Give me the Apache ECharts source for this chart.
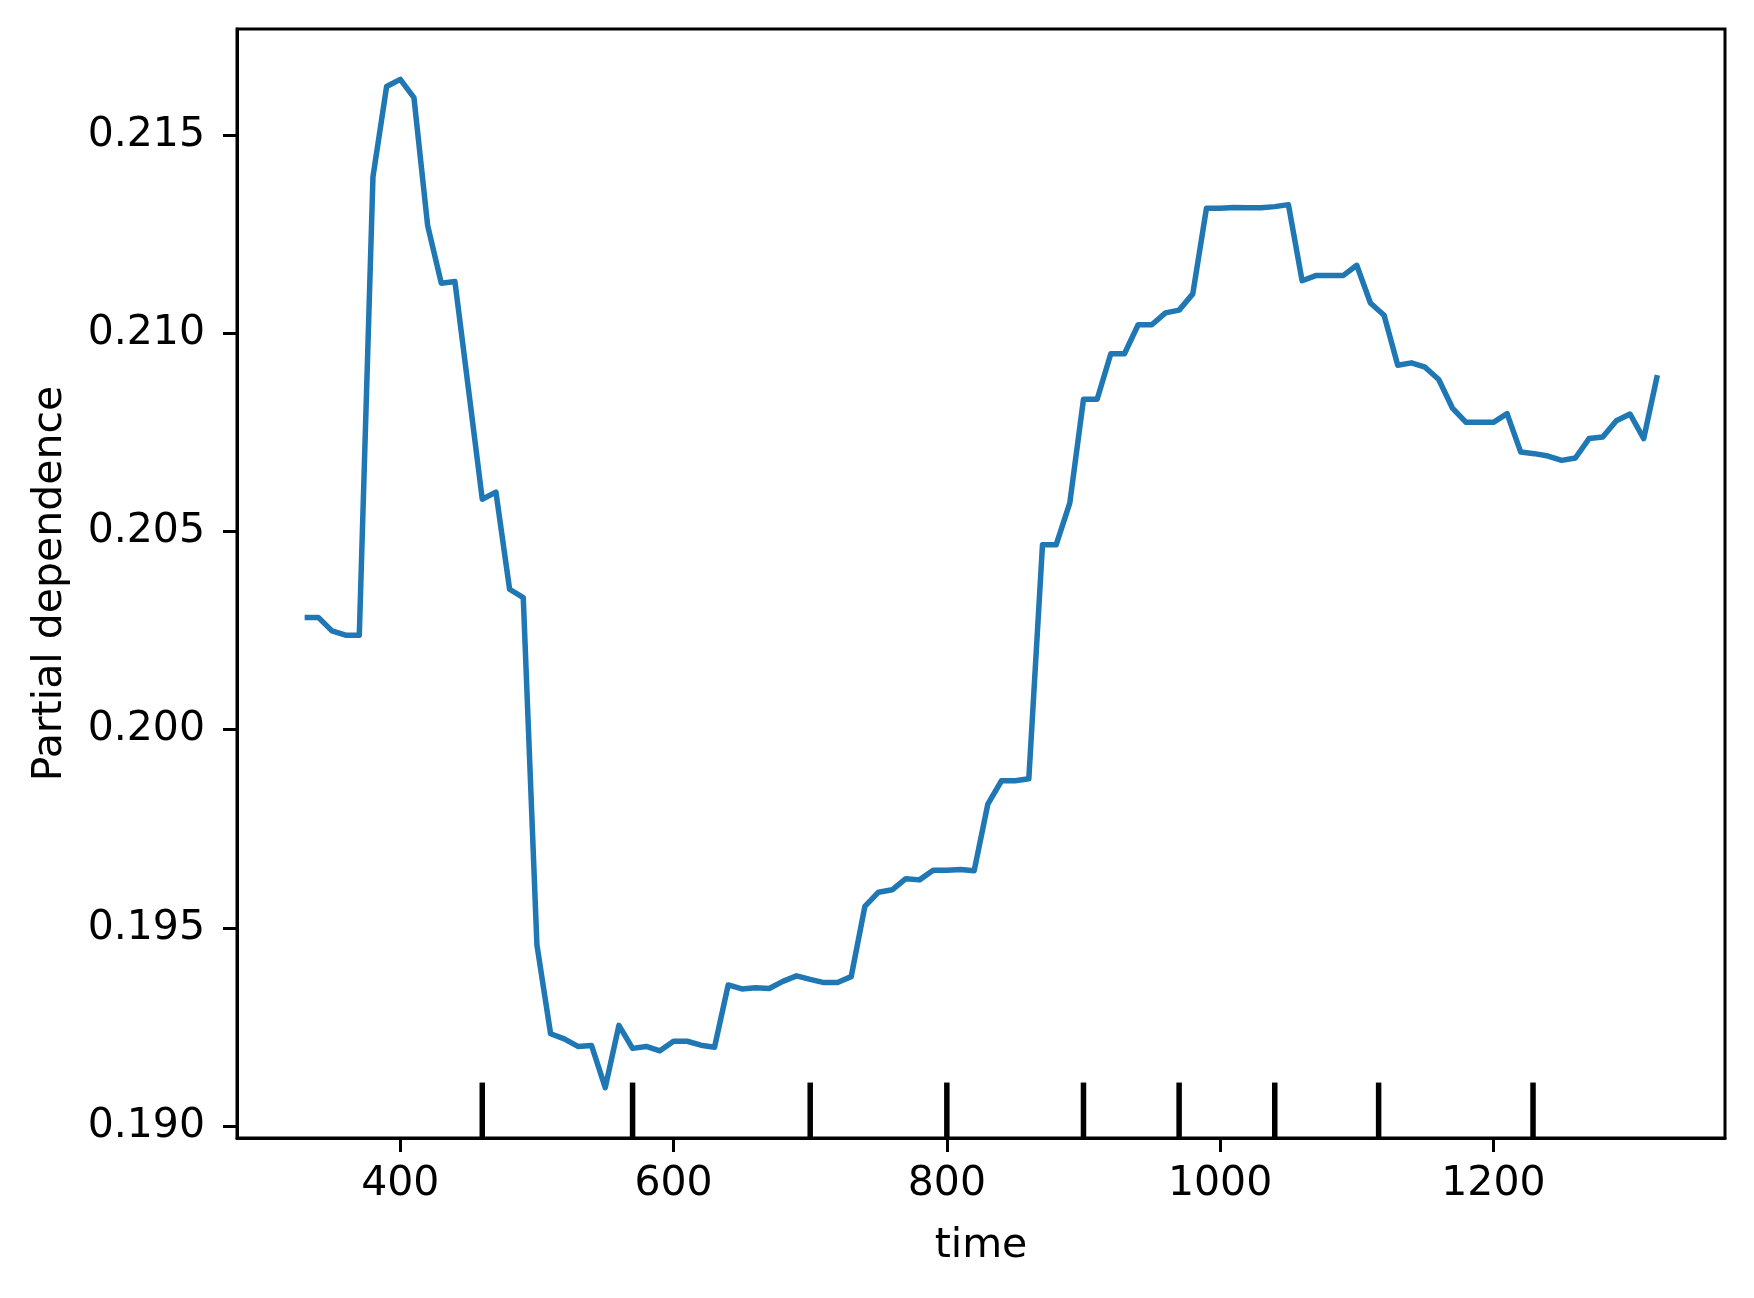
<!DOCTYPE html>
<html>
<head>
<meta charset="utf-8">
<script src="https://cdn.jsdelivr.net/npm/echarts@6/dist/echarts.min.js"></script>
<style>
  html, body { margin: 0; padding: 0; background: #fff; }
  #main { width: 1754px; height: 1298px; }
</style>
</head>
<body>
<div id="main"></div>
<script>
// grid of time values (x)
var times = [];
for (var t = 330; t <= 1320; t += 10) times.push(t);

// partial dependence, one per time value
var pdValues = [
  0.20283, 0.20283, 0.20249, 0.20238, 0.20238, 0.21394, 0.21622, 0.21640, 0.21594, 0.21272,
  0.21126, 0.21130, 0.20856, 0.20581, 0.20599, 0.20354, 0.20333, 0.19457, 0.19233, 0.19220,
  0.19201, 0.19203, 0.19097, 0.19254, 0.19196, 0.19201, 0.19190, 0.19214, 0.19214, 0.19204,
  0.19199, 0.19356, 0.19346, 0.19349, 0.19347, 0.19365, 0.19379, 0.19370, 0.19362, 0.19362,
  0.19377, 0.19554, 0.19590, 0.19596, 0.19624, 0.19621, 0.19645, 0.19645, 0.19647, 0.19644,
  0.19812, 0.19871, 0.19871, 0.19876, 0.20466, 0.20466, 0.20572, 0.20833, 0.20833, 0.20948,
  0.20948, 0.21021, 0.21021, 0.21051, 0.21058, 0.21099, 0.21315, 0.21315, 0.21317, 0.21316,
  0.21316, 0.21319, 0.21324, 0.21132, 0.21145, 0.21145, 0.21145, 0.21171, 0.21076, 0.21045,
  0.20919, 0.20925, 0.20914, 0.20883, 0.20811, 0.20775, 0.20775, 0.20775, 0.20797, 0.20700,
  0.20696, 0.20690, 0.20679, 0.20685, 0.20734, 0.20738, 0.20779, 0.20796, 0.20734, 0.20894
];

// deciles of time (rug marks at the bottom)
var deciles = [460, 570, 700, 800, 900, 970, 1040, 1116, 1229];

// tick labels
var xTicks = [400, 600, 800, 1000, 1200];
var yTicks = [0.190, 0.195, 0.200, 0.205, 0.210, 0.215];

var xMin = 280.5, xMax = 1369.5;
var yMin = 0.1897, yMax = 0.21767;

var font = 'DejaVu Sans';

var chartDom = document.getElementById('main');
var myChart = echarts.init(chartDom);

var option = {
    animation: false,
    backgroundColor: '#fff',
    grid: {
        left: 237,
        right: 29,
        top: 29,
        bottom: 160,
        show: true,
        borderColor: '#000',
        borderWidth: 3,
        backgroundColor: 'transparent'
    },
    xAxis: {
        type: 'value',
        min: xMin,
        max: xMax,
        name: 'time',
        nameLocation: 'middle',
        nameGap: 88,
        nameTextStyle: { fontFamily: font, fontSize: 41, color: '#000' },
        splitLine: { show: false },
        axisLine: { show: true, lineStyle: { color: '#000', width: 3 } },
        axisTick: { show: true, length: 14, lineStyle: { color: '#000', width: 3 }, customValues: xTicks },
        axisLabel: {
            fontFamily: font, fontSize: 41, color: '#000', margin: 26,
            customValues: xTicks,
            formatter: function (v) { return String(v); }
        }
    },
    yAxis: {
        type: 'value',
        min: yMin,
        max: yMax,
        name: 'Partial dependence',
        nameLocation: 'middle',
        nameRotate: 90,
        nameGap: 166,
        nameTextStyle: { fontFamily: font, fontSize: 41, color: '#000' },
        splitLine: { show: false },
        axisLine: { show: true, lineStyle: { color: '#000', width: 3 } },
        axisTick: { show: true, length: 14, lineStyle: { color: '#000', width: 3 }, customValues: yTicks },
        axisLabel: {
            fontFamily: font, fontSize: 41, color: '#000', margin: 32,
            customValues: yTicks,
            formatter: function (v) { return v.toFixed(3); }
        }
    },
    series: [
        {
            name: 'pd',
            type: 'line',
            showSymbol: false,
            symbol: 'none',
            lineStyle: { color: '#1f77b4', width: 5.5, join: 'round' },
            data: times.map(function (t, i) { return [t, pdValues[i]]; })
        },
        {
            name: 'deciles',
            type: 'custom',
            data: deciles.map(function (d) { return [d, yMin]; }),
            renderItem: function (params, api) {
                var p = api.coord([api.value(0), yMin]);
                var h = params.coordSys.height * 0.05;
                return {
                    type: 'line',
                    shape: { x1: p[0], y1: p[1], x2: p[0], y2: p[1] - h },
                    style: { stroke: '#000', lineWidth: 5.5 }
                };
            }
        }
    ]
};

myChart.setOption(option);
</script>
</body>
</html>
